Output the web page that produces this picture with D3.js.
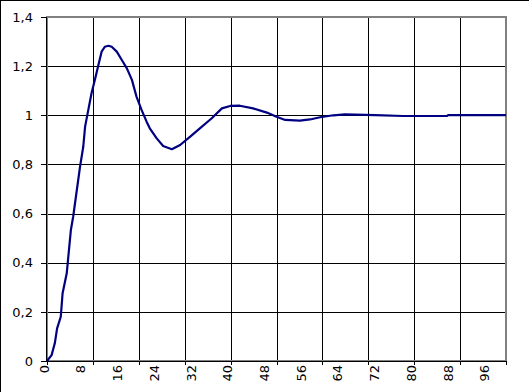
<!DOCTYPE html>
<html>
<head>
<meta charset="utf-8">
<script src="https://cdn.jsdelivr.net/npm/d3@7"></script>
<style>
  body { margin: 0; background: #fff; }
  svg { display: block; }
  text { font-family: "DejaVu Sans", Verdana, sans-serif; font-size: 13px; fill: #000; }
</style>
</head>
<body>
<svg id="chart"></svg>
<script>
// step response
var stepX = [0, 1.0, 1.7, 2.2, 3.0, 3.4, 4.3, 5.2, 5.7, 6.5, 7.2, 7.9, 8.3, 9.0, 9.7, 10.5, 11.2, 11.9, 12.6, 13.4, 14.1,
  15.2, 16.3, 17.4, 18.5, 19.5, 20.6, 21.7, 22.4, 23.9, 25.3, 27.2, 29.0, 31.2, 33.3, 35.9, 38.1, 39.9, 42.0, 44.9, 47.9, 50.0, 51.9,
  55.1, 57.3, 59.5, 62.4, 64.9, 71.5, 77.6, 87.1, 87.4, 100];
var stepY = [0, 0.024, 0.072, 0.133, 0.180, 0.276, 0.357, 0.533, 0.587, 0.696, 0.791, 0.872, 0.954, 1.022, 1.09, 1.150, 1.205, 1.259, 1.279, 1.283, 1.279,
  1.259, 1.225, 1.191, 1.144, 1.076, 1.022, 0.974, 0.947, 0.906, 0.875, 0.862, 0.879, 0.913, 0.947, 0.988, 1.028, 1.038, 1.039, 1.028, 1.011, 0.994, 0.981,
  0.978, 0.983, 0.992, 1.0, 1.004, 1.001, 0.997, 0.997, 1.001, 1.001];

var xLabels = [0, 8, 16, 24, 32, 40, 48, 56, 64, 72, 80, 88, 96];
var xGrid = [10, 20, 30, 40, 50, 60, 70, 80, 90];
var yTicks = [0, 0.2, 0.4, 0.6, 0.8, 1, 1.2, 1.4];

var width = 529;
var height = 392;
var plotLeft = 47, plotRight = 506, plotTop = 17, plotBottom = 361;

var svg = d3.select('#chart')
  .attr('width', width)
  .attr('height', height);

var x = d3.scaleLinear().domain([0, 100]).range([plotLeft, plotRight]);
var y = d3.scaleLinear().domain([0, 1.4]).range([plotBottom, plotTop]);

function px(v) { return Math.round(v) + 0.5; }

// outer frame, only left and top are visible in the picture
svg.append('line').attr('x1', 0.5).attr('x2', 0.5).attr('y1', 0).attr('y2', height).attr('stroke', '#000');
svg.append('line').attr('x1', 0).attr('x2', width).attr('y1', 0.5).attr('y2', 0.5).attr('stroke', '#000');

// grid
svg.append('g').selectAll('line')
  .data(yTicks.filter(function(d) { return d > 0 && d < 1.4; }))
  .enter().append('line')
  .attr('x1', plotLeft).attr('x2', plotRight)
  .attr('y1', function(d) { return px(y(d)); })
  .attr('y2', function(d) { return px(y(d)); })
  .attr('stroke', '#000');

svg.append('g').selectAll('line')
  .data(xGrid)
  .enter().append('line')
  .attr('y1', plotTop).attr('y2', plotBottom)
  .attr('x1', function(d) { return px(x(d)); })
  .attr('x2', function(d) { return px(x(d)); })
  .attr('stroke', '#000');

// plot border
svg.append('rect')
  .attr('x', plotLeft).attr('y', plotTop)
  .attr('width', plotRight - plotLeft).attr('height', plotBottom - plotTop)
  .attr('fill', 'none')
  .attr('stroke', '#808080')
  .attr('stroke-width', 2);

// axes
svg.append('line').attr('x1', plotLeft - 0.5).attr('x2', plotLeft - 0.5).attr('y1', plotTop).attr('y2', plotBottom + 1).attr('stroke', '#000');
svg.append('line').attr('x1', plotLeft).attr('x2', plotRight).attr('y1', plotBottom + 0.5).attr('y2', plotBottom + 0.5).attr('stroke', '#000');

// y ticks + labels
svg.append('g').selectAll('line')
  .data(yTicks)
  .enter().append('line')
  .attr('x1', plotLeft - 6).attr('x2', plotLeft)
  .attr('y1', function(d) { return px(y(d)); })
  .attr('y2', function(d) { return px(y(d)); })
  .attr('stroke', '#000');

svg.append('g').selectAll('text')
  .data(yTicks)
  .enter().append('text')
  .attr('x', 33)
  .attr('y', function(d) { return y(d); })
  .attr('dy', '0.36em')
  .attr('text-anchor', 'end')
  .text(function(d) { return d3.format('.1~f')(d).replace('.', ','); });

// x ticks every 10, labels every 8
svg.append('g').selectAll('line')
  .data([0].concat(xGrid).concat([100]))
  .enter().append('line')
  .attr('x1', function(d) { return px(x(d)); })
  .attr('x2', function(d) { return px(x(d)); })
  .attr('y1', plotBottom).attr('y2', plotBottom + 4)
  .attr('stroke', '#000');

svg.append('g').selectAll('text')
  .data(xLabels)
  .enter().append('text')
  .attr('transform', function(d) { return 'translate(' + (x(d) - 3) + ',' + 365 + ') rotate(-90)'; })
  .attr('dy', '0.36em')
  .attr('text-anchor', 'end')
  .text(function(d) { return d; });

// curve
var line = d3.line()
  .x(function(d, i) { return x(stepX[i]); })
  .y(function(d) { return y(d); });

svg.append('path')
  .datum(stepY)
  .attr('fill', 'none')
  .attr('stroke', '#000080')
  .attr('stroke-width', 2.2)
  .attr('stroke-linejoin', 'round')
  .attr('d', line);
</script>
</body>
</html>
